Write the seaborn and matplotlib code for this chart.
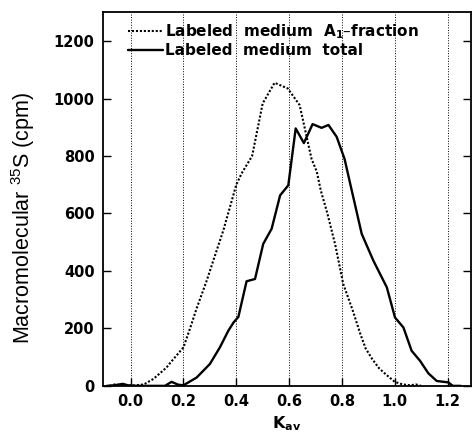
import numpy as np
import pandas as pd
from matplotlib import pyplot as plt
import seaborn as sns

# values
kav_a1 = [-0.08, -0.06, -0.04, -0.02, 0.02, 0.05, 0.086, 0.10, 0.125, 0.136, 0.15, 0.175, 0.20,
          0.225, 0.25, 0.288, 0.313, 0.351, 0.376, 0.40, 0.42, 0.46, 0.50, 0.545, 0.595,
          0.64, 0.685, 0.705, 0.72, 0.745, 0.775, 0.805, 0.84, 0.87, 0.89, 0.915, 0.94,
          0.965, 1.0, 1.03, 1.06, 1.08, 1.10]
cpm_a1 = [0, 5, 3, 0, 2, 5, 24, 35, 55, 64, 80, 107, 134,
          200, 270, 366, 436, 541, 622, 700, 739, 800, 983, 1055, 1035,
          977, 790, 745, 680, 600, 490, 355, 265, 180, 130, 93, 62,
          41, 14, 5, 2, 5, 0]

kav_tot = [-0.09, -0.06, -0.03, -0.01, 0.02, 0.06, 0.10, 0.13, 0.155, 0.18, 0.20, 0.25,
           0.30, 0.338, 0.37, 0.39, 0.408, 0.439, 0.471, 0.502, 0.534, 0.566, 0.597,
           0.625, 0.656, 0.689, 0.723, 0.749, 0.78, 0.81, 0.837, 0.875, 0.919, 0.97,
           1.001, 1.033, 1.064, 1.096, 1.127, 1.159, 1.203, 1.22, 1.25]
cpm_tot = [0, 2, 7, 2, 0, 0, 0, 0, 14, 4, 2, 29,
           76, 134, 192, 221, 240, 364, 372, 494, 547, 663, 698,
           896, 845, 911, 898, 908, 867, 790, 681, 529, 436, 343,
           238, 203, 122, 87, 44, 17, 12, 0, 0]

xticks = [0.0, 0.2, 0.4, 0.6, 0.8, 1.0, 1.2]
yticks = [0, 200, 400, 600, 800, 1000, 1200]

sns.set_style("ticks")
plt.rcParams['font.family'] = ['DejaVu Sans']
plt.rcParams['text.color'] = 'black'
plt.rcParams['axes.labelcolor'] = 'black'
plt.rcParams['xtick.color'] = 'black'
plt.rcParams['ytick.color'] = 'black'
plt.rcParams['mathtext.default'] = 'regular'

fig = plt.figure(figsize=(4.72, 4.36), dpi=100)
ax = fig.add_axes([0.218, 0.115, 0.78, 0.858])

df_a1 = pd.DataFrame({"kav": kav_a1, "cpm": cpm_a1})
df_tot = pd.DataFrame({"kav": kav_tot, "cpm": cpm_tot})
sns.lineplot(data=df_a1, x="kav", y="cpm", ax=ax, color="black", linewidth=1.5,
             linestyle=(0, (1.0, 0.9)), label="Labeled  medium  A$_\\mathbf{1}$\u2013fraction")
sns.lineplot(data=df_tot, x="kav", y="cpm", ax=ax, color="black", linewidth=1.7,
             label="Labeled  medium  total")

ax.set_xlim(-0.105, 1.289)
ax.set_ylim(0, 1302)
ax.set_xticks(xticks)
ax.set_xticklabels([f"{t:.1f}" for t in xticks], fontweight="heavy", fontsize=10.5)
ax.set_yticks(yticks)
ax.set_yticklabels([str(t) for t in yticks], fontweight="heavy", fontsize=10.5)
ax.tick_params(direction="in", length=6, width=1, right=True, labelright=False, pad=6)
ax.grid(axis="x", linestyle=":", color="black", linewidth=0.7)
for s in ax.spines.values():
    s.set_linewidth(1.3)
    s.set_color("black")

ax.set_xlabel("K$_\\mathbf{av}$", fontweight="bold", fontsize=11.5, labelpad=4)
ax.set_ylabel("Macromolecular $^{35}$S (cpm)", fontsize=15.5, family="Liberation Sans")
ax.yaxis.set_label_coords(-0.178, 0.45)

leg = ax.legend(loc="upper left", bbox_to_anchor=(0.04, 1.0), frameon=False,
                handlelength=2.3, handletextpad=0.1, labelspacing=0.15,
                prop={"weight": "bold", "size": 11}, borderaxespad=0.3)

fig.savefig("out.png", dpi=100)
